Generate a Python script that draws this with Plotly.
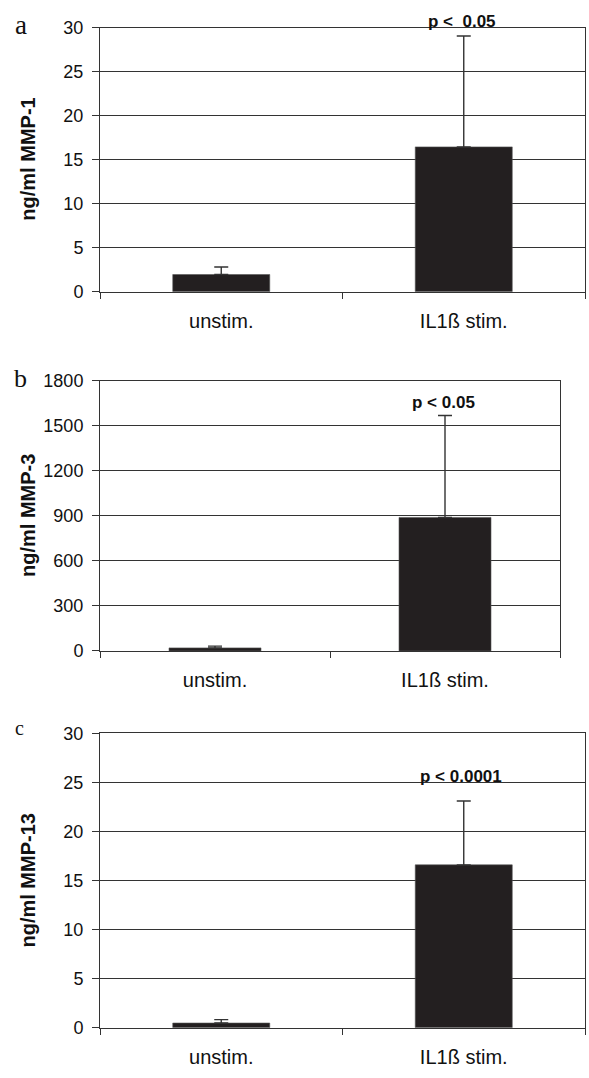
import plotly.graph_objects as go

# ---- data ----
categories = ["unstim.", "IL1ß stim."]

mmp1_mean = [1.95, 16.45]
mmp1_err = [0.85, 12.6]

mmp3_mean = [20, 890]
mmp3_err = [12, 680]

mmp13_mean = [0.48, 16.6]
mmp13_err = [0.35, 6.5]

y_titles = ["ng/ml MMP-1", "ng/ml MMP-3", "ng/ml MMP-13"]
p_labels = ["p <  0.05", "p < 0.05", "p < 0.0001"]
panel_letters = ["a", "b", "c"]
y_ranges = [[0, 30], [0, 1800], [0, 30]]
y_dticks = [5, 300, 5]

# ---- layout geometry (page pixels) ----
W, H = 589, 1078


def px(x):
    return x / W


def py(y):
    return (H - y) / H


panels = [
    dict(x0=100, x1=585, top=18, bottom=287, p_y=12, p_x=462,
         letter_x=21, letter_y=15, letter_size=27),
    dict(x0=100, x1=560, top=378, bottom=653, p_y=400, p_x=443,
         letter_x=20, letter_y=375, letter_size=26),
    dict(x0=100, x1=585, top=737, bottom=1037, p_y=781, p_x=461,
         letter_x=19, letter_y=732, letter_size=20),
]
means = [mmp1_mean, mmp3_mean, mmp13_mean]
errs = [mmp1_err, mmp3_err, mmp13_err]

BAR = "#231f20"
LINE = "#333333"
FONT = "Liberation Sans, Arial, sans-serif"
TXT = "#111111"

fig = go.Figure()
annotations = []
layout = {}
for i, p in enumerate(panels):
    sfx = "" if i == 0 else str(i + 1)
    fig.add_trace(go.Bar(
        x=categories, y=means[i],
        xaxis="x" + sfx, yaxis="y" + sfx,
        width=0.4,
        marker=dict(color=BAR, line=dict(color="#555555", width=0.6)),
        error_y=dict(type="data", array=errs[i], arrayminus=[0] * len(errs[i]),
                     symmetric=False, color="#333333", thickness=1.4, width=7),
        showlegend=False,
    ))
    layout["xaxis" + sfx] = dict(
        domain=[px(p["x0"]), px(p["x1"])],
        anchor="y" + sfx,
        type="category",
        tickson="boundaries",
        ticks="outside", ticklen=6, tickcolor=LINE, tickwidth=1,
        showline=True, linecolor=LINE, linewidth=1, mirror=True,
        showgrid=False,
        tickfont=dict(family=FONT, size=20, color=TXT),
        ticklabelstandoff=11,
        fixedrange=True,
    )
    layout["yaxis" + sfx] = dict(
        domain=[py(p["bottom"]), py(p["top"])],
        anchor="x" + sfx,
        range=y_ranges[i], dtick=y_dticks[i], tick0=0,
        ticks="outside", ticklen=7, tickcolor=LINE, tickwidth=1,
        showline=True, linecolor=LINE, linewidth=1, mirror=True,
        showgrid=True, gridcolor=LINE, gridwidth=1,
        zeroline=False,
        tickfont=dict(family=FONT, size=18, color=TXT),
        ticklabelstandoff=5,
        fixedrange=True,
    )
    annotations.append(dict(
        xref="paper", yref="paper", x=px(28), y=py((p["top"] + p["bottom"]) / 2),
        text="<b>%s</b>" % y_titles[i], textangle=-90, showarrow=False,
        font=dict(family=FONT, size=20, color=TXT),
        xanchor="center", yanchor="middle",
    ))
    annotations.append(dict(
        xref="paper", yref="paper", x=px(p["p_x"]), y=py(p["p_y"]),
        text="<b>%s</b>" % p_labels[i], showarrow=False,
        font=dict(family=FONT, size=17, color=TXT),
        xanchor="center", yanchor="middle",
    ))
    annotations.append(dict(
        xref="paper", yref="paper", x=px(p["letter_x"]), y=py(p["letter_y"]),
        text=panel_letters[i], showarrow=False,
        font=dict(family="Liberation Serif, Times New Roman, serif",
                  size=p["letter_size"], color=TXT),
        xanchor="center", yanchor="middle",
    ))

fig.update_layout(
    width=W, height=H,
    margin=dict(l=0, r=0, t=0, b=0),
    paper_bgcolor="white", plot_bgcolor="white",
    annotations=annotations,
    **layout,
)
fig.write_html(
    "out.html",
    config={"responsive": False, "displayModeBar": False},
    post_script="document.body.style.margin='0';document.body.style.overflow='hidden';",
)
